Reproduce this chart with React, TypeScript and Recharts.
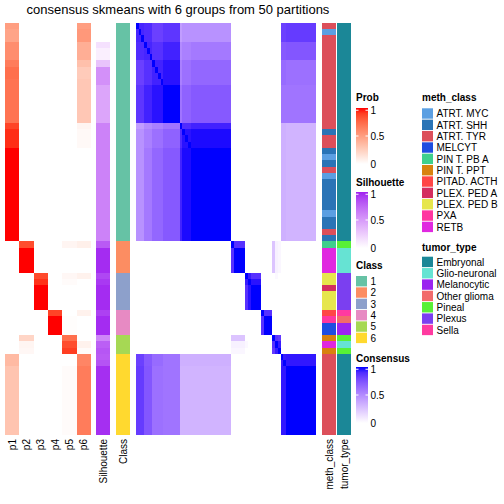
import React from 'react';
import { BarChart, Bar, XAxis, YAxis, Cell } from 'recharts';

const FONT = '"Liberation Sans", Arial, Helvetica, sans-serif';
const TOP = 23;
const HEIGHT = 412;

// samples per class, top to bottom
const classSizes = [35, 5, 6, 4, 3, 13];
const classColors = ['#66C2A5', '#FC8D62', '#8DA0CB', '#E78AC3', '#A6D854', '#FFD92F'];

// membership probability runs: [rows, p1, p2, p3, p4, p5, p6]
const probRuns: number[][] = [
  [1, 0.5, 0, 0, 0, 0, 0.5],
  [2, 0.47, 0, 0, 0, 0, 0.53],
  [3, 0.58, 0, 0, 0, 0, 0.42],
  [1, 0.66, 0, 0, 0, 0, 0.33],
  [2, 0.72, 0, 0, 0, 0, 0.27],
  [7, 0.7, 0, 0, 0, 0, 0.29],
  [1, 0.88, 0, 0, 0, 0, 0.05],
  [3, 0.94, 0, 0, 0, 0, 0.03],
  [15, 1, 0, 0, 0, 0, 0],
  [1, 0, 0.85, 0, 0, 0.05, 0.08],
  [4, 0, 1, 0, 0, 0, 0],
  [1, 0, 0, 0.86, 0, 0.04, 0.07],
  [1, 0, 0, 0.93, 0, 0.02, 0],
  [4, 0, 0, 1, 0, 0, 0],
  [1, 0, 0, 0, 0.88, 0, 0.07],
  [3, 0, 0, 0, 1, 0.01, 0],
  [1, 0, 0.22, 0, 0, 0.72, 0],
  [1, 0, 0.05, 0, 0, 0.85, 0.07],
  [1, 0, 0.04, 0, 0, 0.9, 0.02],
  [2, 0.36, 0, 0, 0, 0, 0.62],
  [11, 0.31, 0, 0, 0, 0.02, 0.66],
];
const probLabels = ['p1', 'p2', 'p3', 'p4', 'p5', 'p6'];

// silhouette runs: [rows, value]
const silRuns: [number, number][] = [
  [3, 0], [1, 0.15], [2, 0.08], [1, 0.3], [3, 0.55], [6, 0.45], [19, 0.62],
  [1, 0.8], [4, 0.97], [1, 0.88], [1, 0.93], [4, 0.97], [1, 0.9], [3, 0.97],
  [1, 0.6], [1, 0.78], [1, 0.82], [1, 0.8], [1, 0.83], [11, 0.96],
];

const methNames = ['ATRT. MYC', 'ATRT. SHH', 'ATRT. TYR', 'MELCYT', 'PIN T. PB A', 'PIN T. PPT',
  'PITAD. ACTH', 'PLEX. PED A', 'PLEX. PED B', 'PXA', 'RETB'];
const methColors = ['#5B9FE2', '#2A74B6', '#DC4F5A', '#1E4DE0', '#3ED08C', '#D8820E',
  '#FF4646', '#D42E60', '#E6E64C', '#FF36A0', '#E028E0'];
// [rows, meth_class index]
const methRuns: [number, number][] = [
  [1, 2], [1, 0], [15, 2], [1, 1], [2, 2], [1, 1], [1, 0], [1, 1], [1, 2], [1, 0], [5, 1],
  [1, 0], [2, 1], [1, 2], [1, 1], [1, 4], [4, 10], [2, 8], [1, 7], [3, 8], [1, 6], [1, 9],
  [2, 3], [1, 5], [1, 10], [1, 5], [13, 2],
];

const tumorNames = ['Embryonal', 'Glio-neuronal', 'Melanocytic', 'Other glioma', 'Pineal', 'Plexus', 'Sella'];
const tumorColors = ['#1B8797', '#66E3D3', '#9B24F0', '#F26B6B', '#58F036', '#7B3FF0', '#FF3AA0'];
const tumorRuns: [number, number][] = [
  [35, 0], [1, 4], [4, 1], [6, 5], [1, 6], [1, 3], [2, 2], [1, 4], [1, 1], [1, 4], [13, 0],
];

// consensus matrix, by blocks of samples
const segLens = [3, 3, 4, 6, 1, 3, 15, 1, 4, 1, 1, 4, 1, 3, 1, 1, 1, 2, 11];
const segWithin = [0.92, 0.92, 0.93, 1, 1, 0.97, 1, 1, 1, 1, 1, 1, 1, 1, 1, 1, 1, 0.95, 1];
const segCross: [number, number, number][] = [
  [0, 1, 0.9], [0, 2, 0.82], [0, 3, 0.86], [1, 2, 0.88], [1, 3, 0.93], [2, 3, 0.97],
  [0, 4, 0.42], [0, 5, 0.47], [0, 6, 0.47],
  [1, 4, 0.5], [1, 5, 0.55], [1, 6, 0.58],
  [2, 4, 0.55], [2, 5, 0.62], [2, 6, 0.66],
  [3, 4, 0.6], [3, 5, 0.68], [3, 6, 0.72],
  [0, 17, 0.82], [0, 18, 0.84], [1, 17, 0.72], [1, 18, 0.73],
  [2, 17, 0.64], [2, 18, 0.62], [3, 17, 0.6], [3, 18, 0.6],
  [4, 5, 0.9], [4, 6, 0.93], [5, 6, 0.985],
  [4, 17, 0.34], [4, 18, 0.32], [5, 17, 0.34], [5, 18, 0.32], [6, 17, 0.34], [6, 18, 0.32],
  [7, 8, 0.88], [7, 14, 0.25], [7, 15, 0.06], [7, 16, 0.04],
  [8, 14, 0.25], [8, 15, 0.06], [8, 16, 0.04],
  [9, 10, 0.95], [9, 11, 0.88], [10, 11, 0.97], [9, 15, 0.03],
  [12, 13, 0.88],
  [14, 15, 0.88], [14, 16, 0.85], [15, 16, 0.95],
  [17, 18, 0.96],
];

function expand<T>(runs: [number, T][]): T[] {
  const out: T[] = [];
  runs.forEach(([n, v]) => { for (let i = 0; i < n; i++) out.push(v); });
  return out;
}

// --- LAB colour ramp (white -> colour), like colorRamp2
const toLin = (c: number) => { c /= 255; return c <= 0.04045 ? c / 12.92 : Math.pow((c + 0.055) / 1.055, 2.4); };
const toGam = (c: number) => { const v = c <= 0.0031308 ? 12.92 * c : 1.055 * Math.pow(c, 1 / 2.4) - 0.055; return Math.round(Math.max(0, Math.min(1, v)) * 255); };
const Xn = 0.95047, Yn = 1, Zn = 1.08883;
const f = (t: number) => (t > 0.008856 ? Math.cbrt(t) : 7.787 * t + 16 / 116);
const finv = (t: number) => (t * t * t > 0.008856 ? t * t * t : (t - 16 / 116) / 7.787);
function hexLab(h: string) {
  const n = parseInt(h.slice(1), 16);
  const r = toLin((n >> 16) & 255), g = toLin((n >> 8) & 255), b = toLin(n & 255);
  const X = 0.4124564 * r + 0.3575761 * g + 0.1804375 * b;
  const Y = 0.2126729 * r + 0.7151522 * g + 0.072175 * b;
  const Z = 0.0193339 * r + 0.119192 * g + 0.9503041 * b;
  const fx = f(X / Xn), fy = f(Y / Yn), fz = f(Z / Zn);
  return [116 * fy - 16, 500 * (fx - fy), 200 * (fy - fz)];
}
function labHex([L, a, bb]: number[]) {
  const fy = (L + 16) / 116, fx = fy + a / 500, fz = fy - bb / 200;
  const X = Xn * finv(fx), Y = Yn * finv(fy), Z = Zn * finv(fz);
  const r = 3.2404542 * X - 1.5371385 * Y - 0.4985314 * Z;
  const g = -0.969266 * X + 1.8760108 * Y + 0.041556 * Z;
  const b = 0.0556434 * X - 0.2040259 * Y + 1.0572252 * Z;
  return '#' + [toGam(r), toGam(g), toGam(b)].map(v => v.toString(16).padStart(2, '0')).join('');
}
function ramp(hi: string) {
  const lo = hexLab('#FFFFFF'), top = hexLab(hi);
  return (t: number) => labHex(lo.map((v, i) => v + (top[i] - v) * Math.max(0, Math.min(1, t))));
}
const probColor = ramp('#FF0000');
const silColor = ramp('#A020F0');
const consColor = ramp('#0000FF');

// --- per-sample tables
const probRows = probRuns.flatMap(r => Array.from({ length: r[0] }, () => r.slice(1)));
const silRows = expand(silRuns).map(v => [v]);
const classRows = expand(classSizes.map((n, i) => [n, i] as [number, number])).map(v => [v]);
const methRows = expand(methRuns).map(v => [v]);
const tumorRows = expand(tumorRuns).map(v => [v]);
const segOf = expand(segLens.map((n, i) => [n, i] as [number, number]));
const consRows = segOf.map((a, r) => segOf.map((b, c) => {
  if (r === c) return 1;
  if (a === b) return segWithin[a];
  const lo = Math.min(a, b), hi = Math.max(a, b);
  const hit = segCross.find(([i, j]) => i === lo && j === hi);
  return hit ? hit[2] : 0;
}));

function HeatPanel({ left, width, values, colorOf }: {
  left: number; width: number; values: number[][]; colorOf: (v: number) => string;
}) {
  const cols = values[0].map((_, j) => j);
  const data = values.map((_, i) => {
    const d: Record<string, number> = { row: i };
    cols.forEach(j => { d['c' + j] = 1; });
    return d;
  });
  // a hair under the band so recharts keeps the exact (unrounded) size
  const rowH = HEIGHT / values.length - 0.002;
  return (
    <div style={{ position: 'absolute', left, top: TOP }}>
      <BarChart width={width} height={HEIGHT} data={data} layout="vertical"
        margin={{ top: 0, right: 0, bottom: 0, left: 0 }} barCategoryGap={0} barGap={0}>
        <XAxis type="number" domain={[0, cols.length]} hide allowDataOverflow />
        <YAxis type="category" dataKey="row" hide />
        {cols.map(j => (
          <Bar key={j} dataKey={'c' + j} stackId="h" barSize={rowH} isAnimationActive={false}>
            {values.map((r, i) => <Cell key={i} fill={colorOf(r[j])} />)}
          </Bar>
        ))}
      </BarChart>
    </div>
  );
}

function ColorBar({ x, y, title, titleY, id, color }: {
  x: number; y: number; title: string; titleY: number; id: string; color: (t: number) => string;
}) {
  const h = 56;
  const stops = [0, 0.1, 0.2, 0.3, 0.4, 0.5, 0.6, 0.7, 0.8, 0.9, 1];
  return (
    <g>
      <text x={x} y={titleY} fontSize={10} fontWeight="bold">{title}</text>
      <defs>
        <linearGradient id={id} x1="0" y1="1" x2="0" y2="0">
          {stops.map(s => <stop key={s} offset={s} stopColor={color(s)} />)}
        </linearGradient>
      </defs>
      <rect x={x} y={y} width={12} height={h} fill={`url(#${id})`} />
      {[0.04, 0.5].map(p => (
        <g key={p}>
          <line x1={x} x2={x + 2.5} y1={y + h * p} y2={y + h * p} stroke="#fff" strokeWidth={1} />
          <line x1={x + 9.5} x2={x + 12} y1={y + h * p} y2={y + h * p} stroke="#fff" strokeWidth={1} />
        </g>
      ))}
      <text x={x + 14.5} y={y + 2} fontSize={10} dominantBaseline="central">1</text>
      <text x={x + 14.5} y={y + h / 2} fontSize={10} dominantBaseline="central">0.5</text>
      <text x={x + 14.5} y={y + h} fontSize={10} dominantBaseline="central">0</text>
    </g>
  );
}

function Swatches({ x, y, title, titleY, names, colors }: {
  x: number; y: number; title: string; titleY: number; names: string[]; colors: string[];
}) {
  const pitch = 11.34;
  return (
    <g>
      <text x={x} y={titleY} fontSize={10} fontWeight="bold">{title}</text>
      {names.map((n, i) => (
        <g key={n}>
          <rect x={x} y={y + i * pitch} width={11} height={10.4} fill={colors[i]} />
          <text x={x + 14.5} y={y + i * pitch + 5.4} fontSize={10} dominantBaseline="central">{n}</text>
        </g>
      ))}
    </g>
  );
}

const labelX = [
  ...probLabels.map((l, j) => [l, 5 + (86 / 6) * (j + 0.5)] as [string, number]),
  ['Silhouette', 103], ['Class', 123], ['meth_class', 329], ['tumor_type', 344],
] as [string, number][];

export default function App() {
  return (
    <div style={{ position: 'absolute', left: 0, top: 0, width: 504, height: 504, background: '#fff', fontFamily: FONT }}>
      <style>{'.hm svg path, .hm svg rect { shape-rendering: crispEdges; }'}</style>
      <svg width={504} height={504} style={{ position: 'absolute', left: 0, top: 0 }} fontFamily={FONT}>
        <text x={178} y={14} fontSize={13} textAnchor="middle">consensus skmeans with 6 groups from 50 partitions</text>
        {labelX.map(([l, x]) => (
          <text key={l} transform={`translate(${x},439) rotate(-90)`} fontSize={10} textAnchor="end" dominantBaseline="central">{l}</text>
        ))}
        <ColorBar x={356} y={108} title="Prob" titleY={101} id="gp" color={probColor} />
        <ColorBar x={356} y={192} title="Silhouette" titleY={185.5} id="gs" color={silColor} />
        <Swatches x={356} y={276} title="Class" titleY={268.5} names={['1', '2', '3', '4', '5', '6']} colors={classColors} />
        <ColorBar x={356} y={367} title="Consensus" titleY={362} id="gc" color={consColor} />
        <Swatches x={422} y={108.3} title="meth_class" titleY={101} names={methNames} colors={methColors} />
        <Swatches x={422} y={256.7} title="tumor_type" titleY={250.5} names={tumorNames} colors={tumorColors} />
      </svg>
      <div className="hm">
        <HeatPanel left={5} width={86} values={probRows} colorOf={probColor} />
        <HeatPanel left={96} width={14} values={silRows} colorOf={silColor} />
        <HeatPanel left={116} width={14} values={classRows} colorOf={v => classColors[v]} />
        <HeatPanel left={136} width={180} values={consRows} colorOf={consColor} />
        <HeatPanel left={322} width={14} values={methRows} colorOf={v => methColors[v]} />
        <HeatPanel left={337} width={14} values={tumorRows} colorOf={v => tumorColors[v]} />
      </div>
    </div>
  );
}
